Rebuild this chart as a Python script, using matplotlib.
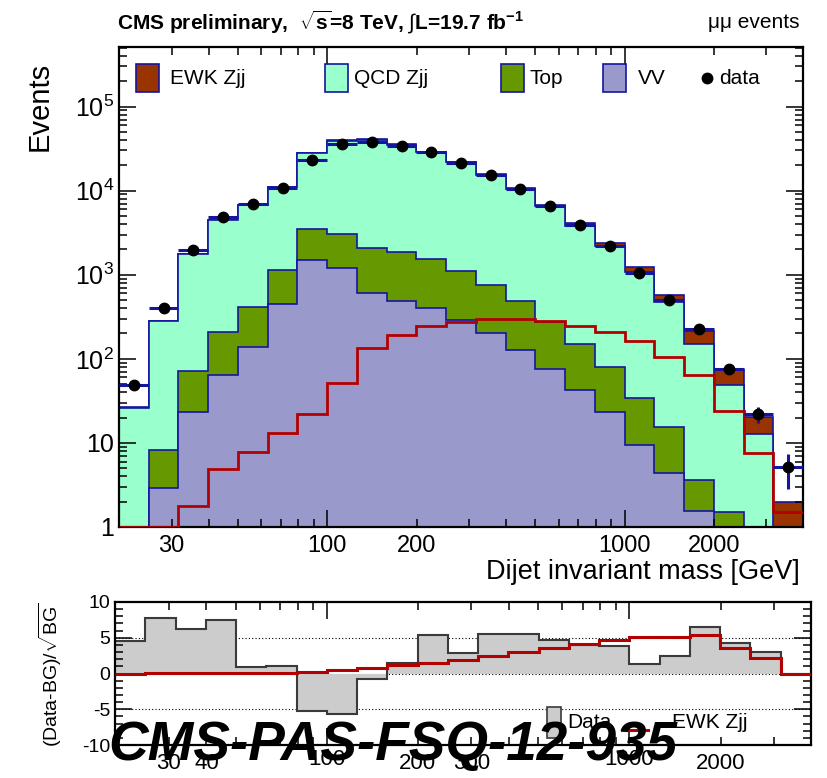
import numpy as np
import matplotlib
matplotlib.use('Agg')
import matplotlib.pyplot as plt
from matplotlib.patches import Rectangle
from matplotlib.lines import Line2D
from matplotlib.ticker import FixedLocator, FuncFormatter, LogLocator, MultipleLocator, NullFormatter

plt.rcParams['font.family'] = ['Liberation Sans', 'DejaVu Sans']
plt.rcParams['mathtext.fontset'] = 'custom'
plt.rcParams['mathtext.rm'] = 'Liberation Sans'
plt.rcParams['mathtext.it'] = 'Liberation Sans:italic'
plt.rcParams['mathtext.bf'] = 'Liberation Sans:bold'
plt.rcParams['axes.unicode_minus'] = False

# 23 bins, 10 per decade, 10^1.3 .. 10^3.6 GeV
bin_edges = np.logspace(1.3, 3.6, 24)

data_events = [49, 400, 1970, 4800, 7000, 10800, 23200, 35900, 37600, 34300, 28600, 21200,
               15500, 10500, 6530, 3860, 2220, 1050, 500, 226, 76, 22, 5.1]
vv_events = [0, 2.9, 23, 65, 140, 448, 1510, 1190, 605, 490, 397, 288,
             202, 126, 76, 42, 23, 9.5, 4.4, 1.55, 0.6, 0.3, 0.1]
top_events = [0, 5.4, 48, 141, 272, 702, 1990, 1830, 1475, 1370, 1143, 828,
              558, 360, 195, 108, 56, 24.5, 10.9, 2.05, 0.9, 0.2, 0.1]
qcd_zjj = [26, 272, 1709, 4224, 6398, 9920, 24600, 36380, 38320, 33440, 27360, 20584,
           14740, 10014, 6229, 3680, 2091, 1036, 456, 147, 47.5, 12.2, 0.3]
ewk_zjj = [1, 1, 1.8, 4.9, 7.8, 13, 22, 51, 136, 190, 243, 271,
           296, 296, 278, 247, 211, 161, 106, 65, 24, 7.5, 1.5]

# (Data-BG)/sqrt(BG) and EWK/sqrt(BG)
ratio_data = [4.6, 7.8, 6.2, 7.5, 0.95, 1.05, -5.2, -5.6, -0.7, 1.5, 5.4, 2.9,
              5.5, 5.5, 4.7, 4.0, 3.8, 1.35, 2.45, 6.5, 4.3, 2.95, 0]
ratio_ewk = [0, 0.02, 0.05, 0.05, 0.08, 0.1, 0.2, 0.45, 0.8, 1.15, 1.5, 1.9,
             2.45, 3.0, 3.5, 4.1, 4.7, 5.1, 5.05, 5.4, 3.5, 2.2, 0]

col_ewk = '#993300'
col_qcd = '#99ffcc'
col_top = '#669900'
col_vv = '#9999cc'
col_line = '#1515a0'
col_red = '#b30000'

W, H = 827, 778
fig = plt.figure(figsize=(W / 100, H / 100), dpi=100)


def fx(px):
    return px / W


def fy(py):
    return 1 - py / H


ax = fig.add_axes([fx(119), fy(527), fx(803) - fx(119), fy(47) - fy(527)])
rx = fig.add_axes([fx(115), fy(745), fx(811) - fx(115), fy(602) - fy(745)])

# stacked histograms
vv = np.array(vv_events, dtype=float)
vt = vv + np.array(top_events)
vq = vt + np.array(qcd_zjj)
tot = vq + np.array(ewk_zjj)

for vals, col in [(tot, col_ewk), (vq, col_qcd), (vt, col_top), (vv, col_vv)]:
    ax.stairs(vals, bin_edges, baseline=0, fill=True, color=col, lw=0)
    ax.stairs(vals, bin_edges, baseline=None, color=col_line, lw=1.2)

ax.stairs(ewk_zjj, bin_edges, baseline=None, color=col_red, lw=2.0, zorder=3)

centers = np.sqrt(bin_edges[:-1] * bin_edges[1:])
d = np.array(data_events)
ax.errorbar(centers, d, xerr=[centers - bin_edges[:-1], bin_edges[1:] - centers],
            yerr=np.sqrt(d), fmt='o', ms=7.5, mfc='k', mec='k', ecolor=col_line,
            elinewidth=2.2, capsize=0, zorder=5)

ax.set_xscale('log')
ax.set_yscale('log')
ax.set_xlim(bin_edges[0], bin_edges[-1])
ax.set_ylim(1, 5.1e5)

minor_x = [30, 40, 50, 60, 70, 80, 90, 200, 300, 400, 500, 600, 700, 800, 900, 2000, 3000]


def setup_x(a, labelled, size):
    a.xaxis.set_major_locator(FixedLocator([100, 1000]))
    a.xaxis.set_minor_locator(FixedLocator(minor_x))
    a.xaxis.set_major_formatter(FuncFormatter(lambda v, p: f"{v:g}"))
    a.xaxis.set_minor_formatter(FuncFormatter(
        lambda v, p: f"{v:g}" if round(v) in labelled else ""))
    a.tick_params(axis='x', which='both', labelsize=size, pad=6)


setup_x(ax, (30, 200, 2000), 17)
ax.yaxis.set_major_locator(LogLocator(base=10, numticks=10))
ax.yaxis.set_minor_locator(LogLocator(base=10, subs=np.arange(2, 10), numticks=20))
ax.yaxis.set_minor_formatter(NullFormatter())


def ylab(v, p):
    n = int(round(np.log10(v)))
    if n == 0:
        return "1"
    if n == 1:
        return "10"
    return r"$10^{%d}$" % n


ax.yaxis.set_major_formatter(FuncFormatter(ylab))
ax.tick_params(axis='y', which='both', labelsize=18)

for a in (ax, rx):
    a.tick_params(which='both', direction='in', top=True, right=True, width=1.1)
    a.tick_params(which='major', length=12)
    a.tick_params(which='minor', length=6)
    for s in a.spines.values():
        s.set_linewidth(1.6)

# ratio panel
for yv in (5, 0, -5):
    rx.axhline(yv, color='k', lw=0.8, ls=(0, (1, 2)), zorder=0.5)
rx.stairs(ratio_data, bin_edges, baseline=0, fill=True, color='#cccccc', lw=0)
rx.stairs(ratio_data, bin_edges, baseline=None, color='#3a3a3a', lw=1.5)
rx.stairs(ratio_ewk, bin_edges, baseline=None, color=col_red, lw=2.2, zorder=3)
rx.set_xscale('log')
rx.set_xlim(bin_edges[0], bin_edges[-1])
rx.set_ylim(-10, 10)
rx.yaxis.set_major_locator(FixedLocator([-10, -5, 0, 5, 10]))
rx.yaxis.set_minor_locator(MultipleLocator(1))
rx.tick_params(axis='y', labelsize=14)
setup_x(rx, (30, 40, 200, 300, 2000), 16)
rx.tick_params(axis='x', pad=3)

# texts
fig.text(fx(117), fy(22), r'CMS preliminary,  $\sqrt{\mathbf{s}}$=8 TeV, $\int$L=19.7 fb$^{\mathbf{-1}}$',
         fontsize=15, fontweight='bold', va='center')
fig.text(fx(800), fy(22), 'μμ events', ha='right', va='center', fontsize=15)
fig.text(fx(40), fy(106), 'Events', rotation=90, fontsize=21, ha='center', va='center')
fig.text(fx(800), fy(572), 'Dijet invariant mass [GeV]', ha='right', va='center', fontsize=19.5)
fig.text(fx(50), fy(675), r'(Data-BG)/$\sqrt{\rm BG}$', rotation=90, fontsize=14,
         ha='center', va='center')

# top legend
for x0, x1, xt, name, col in [(136, 159, 170, 'EWK Zjj', col_ewk), (325, 348, 354, 'QCD Zjj', col_qcd),
                              (501, 524, 529, 'Top', col_top), (603, 626, 638, 'VV', col_vv)]:
    fig.add_artist(Rectangle((fx(x0), fy(92)), fx(x1) - fx(x0), fy(64) - fy(92),
                             transform=fig.transFigure, facecolor=col, edgecolor=col_line, lw=1.2))
    fig.text(fx(xt), fy(78), name, fontsize=15, va='center')
fig.add_artist(Line2D([fx(707)], [fy(78)], marker='o', ms=7.5, color='k', transform=fig.transFigure))
fig.text(fx(719), fy(78), 'data', fontsize=15, va='center')

# ratio legend (mostly hidden under the watermark)
fig.add_artist(Rectangle((fx(547), fy(738)), fx(561) - fx(547), fy(707) - fy(738),
                         transform=fig.transFigure, facecolor='#cccccc', edgecolor='#3a3a3a', lw=1.2))
fig.text(fx(567), fy(722), 'Data', fontsize=15, va='center')
fig.add_artist(Line2D([fx(622), fx(648)], [fy(730), fy(730)], color=col_red, lw=2.2,
                      transform=fig.transFigure))
fig.text(fx(672), fy(722), 'EWK Zjj', fontsize=15, va='center')

fig.text(fx(108), fy(760), 'CMS-PAS-FSQ-12-935', fontsize=39.5, fontweight='bold',
         fontstyle='italic', va='baseline', zorder=10)

fig.savefig('out.png', dpi=100)
